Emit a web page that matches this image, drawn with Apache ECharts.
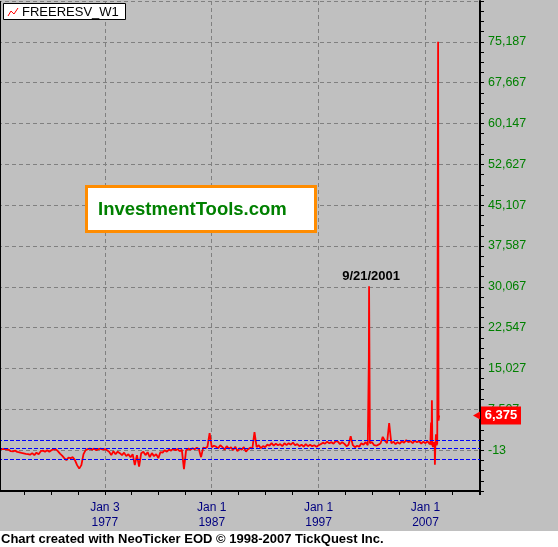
<!DOCTYPE html>
<html><head><meta charset="utf-8">
<script src="https://cdn.jsdelivr.net/npm/echarts@6/dist/echarts.min.js"></script>
<style>html,body{margin:0;padding:0;background:#c0c0c0;overflow:hidden}#c{width:558px;height:547px}</style>
</head><body><div id="c"></div>
<script>
// ---- data ----
const seriesName = 'FREERESV_W1';
const years = [
1967.2,1967.4,1967.6,1967.8,1968.0,1968.2,1968.4,1968.6,1968.8,1969.0,
1969.2,1969.4,1969.6,1969.8,1970.0,1970.2,1970.4,1970.6,1970.8,1971.0,
1971.2,1971.4,1971.6,1971.8,1972.0,1972.2,1972.4,1972.6,1972.8,1973.0,
1973.2,1973.4,1973.6,1973.8,1974.0,1974.2,1974.4,1974.6,1974.8,1975.0,
1975.2,1975.4,1975.6,1975.8,1976.0,1976.2,1976.4,1976.6,1976.8,1977.0,
1977.2,1977.4,1977.6,1977.8,1978.0,1978.2,1978.4,1978.6,1978.8,1979.0,
1979.2,1979.4,1979.6,1979.8,1980.0,1980.2,1980.4,1980.6,1980.8,1981.0,
1981.2,1981.4,1981.6,1981.8,1982.0,1982.2,1982.4,1982.6,1982.8,1983.0,
1983.2,1983.4,1983.6,1983.8,1984.0,1984.2,1984.4,1984.6,1984.8,1985.0,
1985.2,1985.4,1985.6,1985.8,1986.0,1986.2,1986.4,1986.6,1986.8,1987.0,
1987.2,1987.4,1987.6,1987.8,1988.0,1988.2,1988.4,1988.6,1988.8,1989.0,
1989.2,1989.4,1989.6,1989.8,1990.0,1990.2,1990.4,1990.6,1990.8,1991.0,
1991.2,1991.4,1991.6,1991.8,1992.0,1992.2,1992.4,1992.6,1992.8,1993.0,
1993.2,1993.4,1993.6,1993.8,1994.0,1994.2,1994.4,1994.6,1994.8,1995.0,
1995.2,1995.4,1995.6,1995.8,1996.0,1996.2,1996.4,1996.6,1996.8,1997.0,
1997.2,1997.4,1997.6,1997.8,1998.0,1998.2,1998.4,1998.6,1998.8,1999.0,
1999.2,1999.4,1999.6,1999.8,2000.0,2000.2,2000.4,2000.6,2000.8,2001.0,
2001.2,2001.4,2001.6,2001.70,2001.72,2001.8,2002.0,
2002.2,2002.4,2002.6,2002.8,2003.0,2003.2,2003.4,2003.6,2003.8,2004.0,
2004.2,2004.4,2004.6,2004.8,2005.0,2005.2,2005.4,2005.6,2005.8,2006.0,
2006.2,2006.4,2006.6,2006.8,2007.0,2007.2,2007.4,
2007.46,2007.52,2007.56,2007.60,2007.64,2007.70,2007.78,2007.86,2007.88,2007.92,
2007.98,2008.04,2008.10,2008.18,2008.22,2008.28
];
const freeReserves = [
170,170,230,110,80,-200,-250,-100,-330,-420,
-530,-620,-710,-750,-840,-560,-930,-470,-750,-200,
-100,-290,-10,-290,-10,110,170,-200,-660,-1020,
-1480,-1850,-1390,-1480,-1300,-1850,-2770,-3410,-2770,-750,
-10,170,260,80,260,-10,170,260,80,170,
-10,-290,-930,-200,-750,-290,-560,-930,-470,-1110,
-750,-1300,-750,-2770,-930,-3040,-560,-290,-930,-380,
-1300,-560,-1110,-750,-1480,-380,-470,-10,-290,80,
-100,260,-10,170,-200,80,-3500,-10,260,80,
350,170,450,170,-1300,450,350,630,3110,540,
810,630,350,900,540,80,720,260,540,-10,
630,-200,350,80,540,-290,170,450,260,3290,
540,900,350,720,540,1000,810,1270,810,1180,
900,1090,720,1270,900,1270,1000,1370,900,1090,
720,1000,630,1090,720,1000,720,900,630,900,
1090,1370,1180,1550,1270,1460,1180,1640,1550,1090,
1460,1180,720,1000,2560,900,540,810,630,1270,
1000,1460,900,16890,30170,1270,1460,
900,810,1000,1270,2430,1730,1270,4950,1270,1550,
1090,1460,1180,1640,1370,1820,1460,1640,1270,1730,
1460,1640,1180,1550,1270,1640,1090,
1550,5080,900,9170,1090,540,1460,900,-2710,540,
2930,900,1270,75187,5410,6375
];
const bandLevels = [1770, 300, -1760];
const xTickYears = [1977, 1987, 1997, 2007];
const xTickDays = ['Jan 3', 'Jan 1', 'Jan 1', 'Jan 1'];
const yTickBase = -13;
const yTickStep = 7520;
const annotationYear = 2001.72;
const annotationText = '9/21/2001';
const watermarkText = 'InvestmentTools.com';
const footerText = 'Chart created with NeoTicker EOD \u00a9 1998-2007 TickQuest Inc.';

// ---- chart ----
const FONT = '"Liberation Sans", Arial, sans-serif';
const pts = years.map((y, i) => [y, freeReserves[i]]);
const annIdx = years.indexOf(annotationYear);
const yMin = yTickBase - yTickStep;
const yMax = yTickBase + 11 * yTickStep;
const xMin = 1967, xMax = 2012.1;

const chart = echarts.init(document.getElementById('c'), null, {renderer: 'canvas'});
const fmtNum = v => Math.round(v).toLocaleString('en-US');

const option = {
  animation: false,
  backgroundColor: '#c0c0c0',
  grid: {left: -2, right: 78, top: 1, bottom: 56, containLabel: false, outerBoundsMode: 'none'},
  xAxis: {
    type: 'value', min: xMin, max: xMax, interval: 10, position: 'bottom',
    axisLine: {show: true, onZero: false, lineStyle: {color: '#000', width: 2}},
    axisTick: {show: true, length: 4, lineStyle: {color: '#000', width: 1}},
    minorTick: {show: true, splitNumber: 4, length: 4, lineStyle: {color: '#000', width: 1}},
    splitLine: {show: true, lineStyle: {color: '#808080', type: [4, 3], width: 1}},
    axisLabel: {
      color: '#000080', fontSize: 12, fontFamily: FONT, lineHeight: 15, margin: 9,
      showMinLabel: true, showMaxLabel: false,
      formatter: v => {
        const i = xTickYears.indexOf(Math.round(v));
        return i < 0 ? '' : xTickDays[i] + '\n' + xTickYears[i];
      }
    }
  },
  yAxis: {
    type: 'value', position: 'right', min: yMin, max: yMax, interval: yTickStep,
    axisLine: {show: true, onZero: false, lineStyle: {color: '#000', width: 2}},
    axisTick: {show: true, length: 4, lineStyle: {color: '#000', width: 1}},
    minorTick: {show: true, splitNumber: 4, length: 4, lineStyle: {color: '#000', width: 1}},
    splitLine: {show: true, lineStyle: {color: '#808080', type: [4, 3], width: 1}},
    axisLabel: {
      color: '#008000', fontSize: 12.5, fontFamily: FONT, margin: 8,
      showMinLabel: false, showMaxLabel: false, formatter: fmtNum
    }
  },
  series: [
    {
      name: 'bands', type: 'line', data: [], z: 2, silent: true,
      markLine: {
        silent: true, symbol: 'none', animation: false,
        label: {show: false},
        lineStyle: {color: '#0000ff', type: [4, 2], width: 1},
        data: bandLevels.map(v => ({yAxis: v}))
      }
    },
    {
      name: seriesName, type: 'line', data: pts, z: 3, silent: true,
      showSymbol: false, symbol: 'none',
      lineStyle: {color: '#ff0000', width: 1.8},
      markPoint: {
        silent: true, animation: false,
        data: [{
          coord: [annotationYear, freeReserves[annIdx]],
          symbol: 'rect', symbolSize: [1, 1],
          itemStyle: {color: 'rgba(0,0,0,0)'},
          label: {
            show: true, position: 'top', distance: 3, offset: [2, 0],
            formatter: annotationText, color: '#000', fontWeight: 'bold',
            fontSize: 13, fontFamily: FONT
          }
        }]
      }
    }
  ]
};
chart.setOption(option);

// last-value tag positioned through the chart's own scales
const lastVal = freeReserves[freeReserves.length - 1];
const lastPix = chart.convertToPixel({yAxisIndex: 0}, lastVal);
const axisX = chart.convertToPixel({xAxisIndex: 0}, xMax);
const topPix = chart.convertToPixel({yAxisIndex: 0}, yMax);
const botPix = chart.convertToPixel({yAxisIndex: 0}, yMin);

chart.setOption({
  graphic: [
    {type: 'line', silent: true, shape: {x1: 0.5, y1: topPix, x2: 0.5, y2: botPix},
     style: {stroke: '#000', lineWidth: 1}, z: 50},
    {type: 'rect', silent: true, shape: {x: 3.5, y: 3.5, width: 122, height: 16},
     style: {fill: '#fff', stroke: '#000', lineWidth: 1}, z: 50},
    {type: 'polyline', silent: true, shape: {points: [[8, 16], [11, 11], [14, 14], [18, 8]]},
     style: {stroke: '#ff0000', lineWidth: 1, fill: null}, z: 51},
    {type: 'text', silent: true, x: 22, y: 12, z: 51,
     style: {text: seriesName, fill: '#000', font: '13px ' + FONT, verticalAlign: 'middle'}},
    {type: 'rect', silent: true, shape: {x: 86.5, y: 186.5, width: 229, height: 45},
     style: {fill: '#fff', stroke: '#ff8c00', lineWidth: 3}, z: 50},
    {type: 'text', silent: true, x: 98, y: 210, z: 51,
     style: {text: watermarkText, fill: '#008000', font: 'bold 18.5px ' + FONT, verticalAlign: 'middle'}},
    {type: 'polygon', silent: true, z: 52,
     shape: {points: [[axisX - 7, lastPix], [axisX, lastPix - 4], [axisX, lastPix + 4]]},
     style: {fill: '#ff0000'}},
    {type: 'rect', silent: true, z: 52,
     shape: {x: axisX + 1, y: lastPix - 9, width: 40, height: 18},
     style: {fill: '#ff0000'}},
    {type: 'text', silent: true, z: 53, x: axisX + 21, y: lastPix,
     style: {text: fmtNum(lastVal), fill: '#fff', font: 'bold 13px ' + FONT, align: 'center', verticalAlign: 'middle'}},
    {type: 'rect', silent: true, z: 50, shape: {x: 0, y: 531, width: 558, height: 16},
     style: {fill: '#fff'}},
    {type: 'text', silent: true, z: 51, x: 1, y: 539,
     style: {text: footerText, fill: '#000', font: 'bold 13px ' + FONT, verticalAlign: 'middle'}}
  ]
});
</script>
</body></html>
